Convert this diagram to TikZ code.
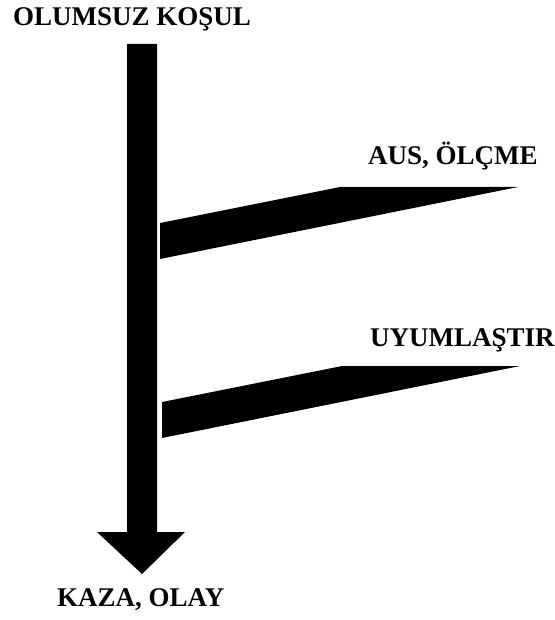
\documentclass[tikz,border=0pt]{standalone}
\usepackage{fontspec}
\setmainfont{Liberation Serif}
\usepackage{tikz}
\usetikzlibrary{positioning}

\begin{document}
\begin{tikzpicture}[x=1pt,y=-1pt,
    lbl/.style={anchor=base west,inner sep=0pt,font=\fontsize{27}{30}\selectfont\bfseries},
    blk/.style={fill=black,draw=none}]
    \useasboundingbox (0,0) rectangle (554,620);
    % main arrow: from condition down to the accident
    \node[lbl] (cond) at (13,26) {OLUMSUZ KOŞUL};
    \node[lbl] (acc) at (57,606) {KAZA, OLAY};
    \fill[blk] (127,44) -- (157,44) -- (157,532) -- (185,532) -- (142,574)
      -- (97,532) -- (127,532) -- cycle;
    % side branches (barriers)
    \node[lbl] (meas) at (368,165) {AUS, ÖLÇME};
    \node[lbl] (adapt) at (370,346) {UYUMLAŞTIR};
    \foreach \dy/\dx in {0/0,179/2} {
      \fill[blk] (160+\dx,223+\dy) -- (340+\dx,187+\dy) -- (518+\dx,187+\dy)
        -- (160+\dx,259+\dy) -- cycle;
    }
\end{tikzpicture}
\end{document}
